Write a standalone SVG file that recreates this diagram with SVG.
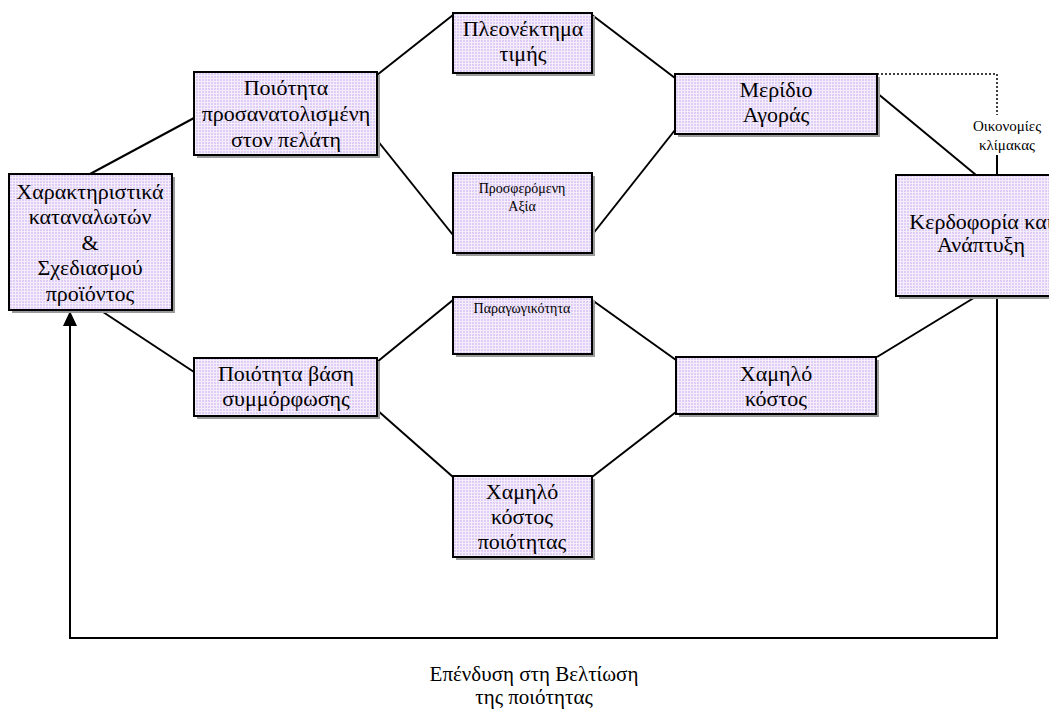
<svg xmlns="http://www.w3.org/2000/svg" width="1049" height="711" viewBox="0 0 1049 711">
<style>
.box{fill:url(#grid);stroke:#000;stroke-width:2}
.sh{fill:#9a9a9a}
text{font-family:'Liberation Serif','Times New Roman',Tinos,'DejaVu Serif',serif;fill:#000;text-anchor:middle}
.t{font-size:22px}
.s{font-size:14px}
.ln{stroke:#000;stroke-width:2;fill:none}
.dot{stroke:#000;stroke-width:1.5;fill:none;stroke-dasharray:2 2}
</style>
<defs>
<pattern id="grid" width="3" height="3" patternUnits="userSpaceOnUse">
<rect width="3" height="3" fill="#e0cdf5"/>
<path d="M0 0.5H3M0.5 0V3" stroke="#f4eefc" stroke-width="1"/>
</pattern>
<marker id="arr" viewBox="0 0 10 10" refX="10" refY="5" markerWidth="7" markerHeight="7" orient="auto" markerUnits="userSpaceOnUse">
<path d="M0 0L10 5L0 10z" fill="#000"/>
</marker>
</defs>
<rect width="1049" height="711" fill="#fff"/>
<g id="connectors">
<line class="ln" x1="90" y1="174" x2="194" y2="118"/>
<line class="ln" x1="100" y1="310" x2="194" y2="372"/>
<line class="ln" x1="377" y1="75" x2="453" y2="15"/>
<line class="ln" x1="377" y1="140" x2="453" y2="235"/>
<line class="ln" x1="592" y1="15" x2="675" y2="78"/>
<line class="ln" x1="592" y1="235" x2="675" y2="130"/>
<line class="ln" x1="877" y1="93" x2="976" y2="175"/>
<polyline class="dot" points="877,74 997,74 997,115"/>
<line class="ln" x1="997" y1="155" x2="997" y2="175"/>
<line class="ln" x1="977" y1="296" x2="877" y2="357"/>
<line class="ln" x1="377" y1="362" x2="453" y2="300"/>
<line class="ln" x1="592" y1="300" x2="676" y2="360"/>
<line class="ln" x1="377" y1="410" x2="453" y2="477"/>
<line class="ln" x1="592" y1="477" x2="676" y2="412"/>
<polyline class="ln" points="997,296 997,638 70,638 70,326"/>
<path d="M63,326 L70,311 L77,326 Z" fill="#000"/>
<rect x="966" y="116" width="83" height="38" fill="#fff"/>
<text class="s" x="1007" y="131" style="font-size:15px">Οικονομίες</text>
<text class="s" x="1007" y="150" style="font-size:15px">κλίμακας</text>
<text class="t" x="534" y="681" style="font-size:21px">Επένδυση στη Βελτίωση</text>
<text class="t" x="534" y="704" style="font-size:21px">της ποιότητας</text>
</g>
<g id="n-char">
<rect class="sh" x="12" y="177" width="163" height="136"/>
<rect class="box" x="9" y="174" width="163" height="136"/>
<text class="t" x="90" y="199">Χαρακτηριστικά</text>
<text class="t" x="90" y="224">καταναλωτών</text>
<text class="t" x="90" y="250">&amp;</text>
<text class="t" x="90" y="275">Σχεδιασμού</text>
<text class="t" x="90" y="301">προϊόντος</text>
</g>
<g id="n-cust">
<rect class="sh" x="197" y="75" width="183" height="83"/>
<rect class="box" x="194" y="72" width="183" height="83"/>
<text class="t" x="286" y="95">Ποιότητα</text>
<text class="t" x="286" y="121">προσανατολισμένη</text>
<text class="t" x="286" y="147">στον πελάτη</text>
</g>
<g id="n-price">
<rect class="sh" x="456" y="16" width="139" height="60"/>
<rect class="box" x="453" y="13" width="139" height="60"/>
<text class="t" x="523" y="36">Πλεονέκτημα</text>
<text class="t" x="523" y="61">τιμής</text>
</g>
<g id="n-share">
<rect class="sh" x="678" y="77" width="202" height="60"/>
<rect class="box" x="675" y="74" width="202" height="60"/>
<text class="t" x="776" y="97">Μερίδιο</text>
<text class="t" x="776" y="122">Αγοράς</text>
</g>
<g id="n-value">
<rect class="sh" x="456" y="176" width="139" height="80"/>
<rect class="box" x="453" y="173" width="139" height="80"/>
<text class="s" x="522" y="193">Προσφερόμενη</text>
<text class="s" x="522" y="211">Αξία</text>
</g>
<g id="n-profit">
<rect class="sh" x="899" y="178" width="170" height="121"/>
<rect class="box" x="896" y="175" width="170" height="121"/>
<text class="t" x="981" y="229">Κερδοφορία και</text>
<text class="t" x="981" y="252">Ανάπτυξη</text>
</g>
<g id="n-prod">
<rect class="sh" x="456" y="300" width="139" height="57"/>
<rect class="box" x="453" y="297" width="139" height="57"/>
<text class="s" x="522" y="313">Παραγωγικότητα</text>
</g>
<g id="n-conf">
<rect class="sh" x="197" y="361" width="183" height="58"/>
<rect class="box" x="194" y="358" width="183" height="58"/>
<text class="t" x="286" y="381">Ποιότητα βάση</text>
<text class="t" x="286" y="406">συμμόρφωσης</text>
</g>
<g id="n-low">
<rect class="sh" x="679" y="360" width="200" height="57"/>
<rect class="box" x="676" y="357" width="200" height="57"/>
<text class="t" x="776" y="381">Χαμηλό</text>
<text class="t" x="776" y="406">κόστος</text>
</g>
<g id="n-lowq">
<rect class="sh" x="456" y="479" width="139" height="81"/>
<rect class="box" x="453" y="476" width="139" height="81"/>
<text class="t" x="522" y="499">Χαμηλό</text>
<text class="t" x="522" y="524">κόστος</text>
<text class="t" x="522" y="549">ποιότητας</text>
</g>
</svg>
